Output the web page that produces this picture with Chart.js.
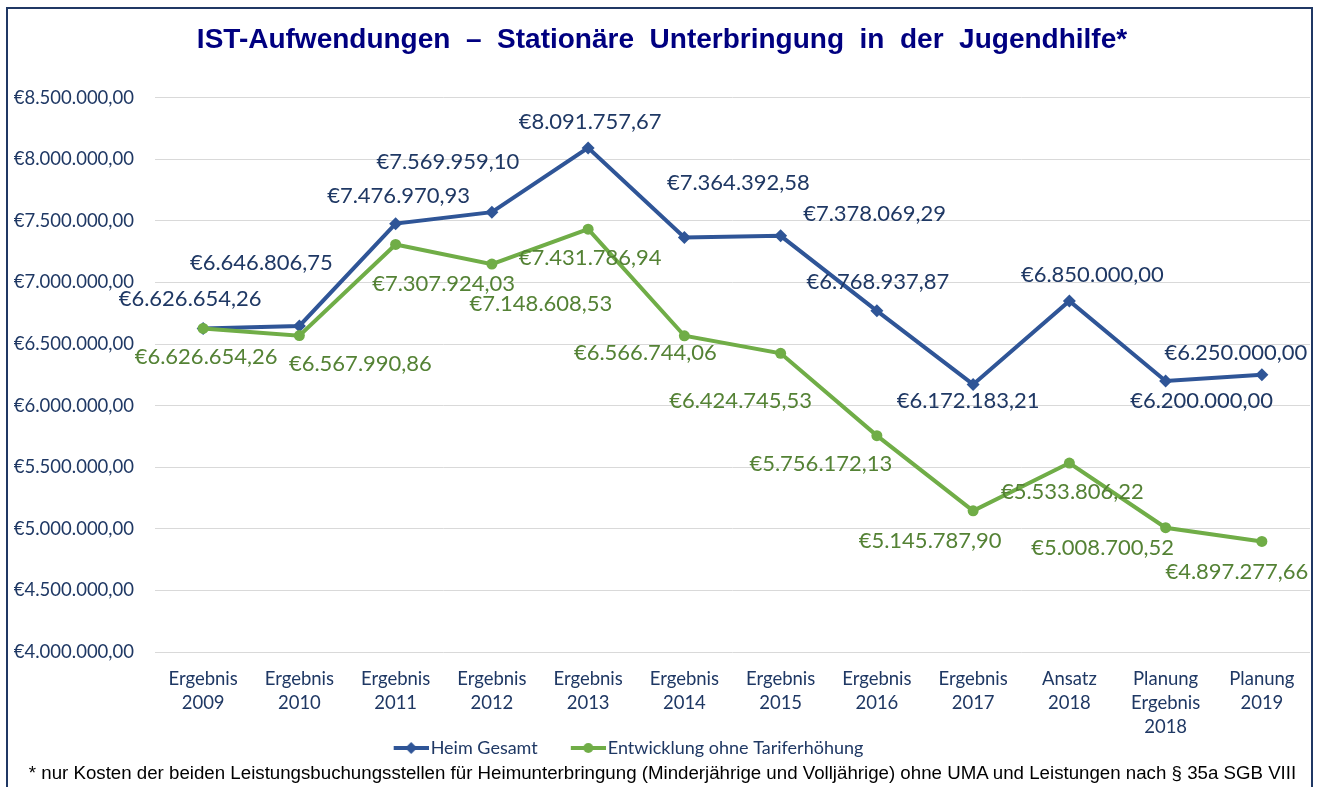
<!DOCTYPE html>
<html>
<head>
<meta charset="utf-8">
<title>IST-Aufwendungen</title>
<script src="https://cdn.jsdelivr.net/npm/chart.js@4.4.0/dist/chart.umd.min.js"></script>
<style>
  html, body { margin: 0; padding: 0; background: #fff; }
  #wrap { position: relative; width: 1325px; height: 787px; overflow: hidden; }
  #frame { position: absolute; left: 6px; top: 7px; width: 1303px; height: 800px; border: 2px solid #203864; pointer-events: none; }
  #note { position: absolute; left: 0; top: 762px; width: 1325px; text-align: center;
          font: 18.7px "Liberation Sans", Arial, sans-serif; color: #000; white-space: nowrap; }
</style>
</head>
<body>
<div id="wrap">
  <canvas id="chart" width="1325" height="787"></canvas>
  <div id="frame"></div>
  <div id="note">* nur Kosten der beiden Leistungsbuchungsstellen für Heimunterbringung (Minderjährige und Volljährige) ohne UMA und Leistungen nach § 35a SGB VIII</div>
</div>
<script>
'use strict';

var categories = [
  ['Ergebnis', '2009'], ['Ergebnis', '2010'], ['Ergebnis', '2011'], ['Ergebnis', '2012'],
  ['Ergebnis', '2013'], ['Ergebnis', '2014'], ['Ergebnis', '2015'], ['Ergebnis', '2016'],
  ['Ergebnis', '2017'], ['Ansatz', '2018'], ['Planung', 'Ergebnis', '2018'], ['Planung', '2019']
];
var heimGesamt = [6626654.26, 6646806.75, 7476970.93, 7569959.10, 8091757.67, 7364392.58,
  7378069.29, 6768937.87, 6172183.21, 6850000.00, 6200000.00, 6250000.00];
var ohneTarif = [6626654.26, 6567990.86, 7307924.03, 7148608.53, 7431786.94, 6566744.06,
  6424745.53, 5756172.13, 5145787.90, 5533806.22, 5008700.52, 4897277.66];
var yMin = 4000000, yMax = 8500000, yStep = 500000;

// where each value label sits relative to its point (px)
var blueShift = [[-13, -29], [-38, -63], [3, -28], [-44, -50], [2, -26], [54, -55],
  [94, -22], [1, -29], [-5, 17], [23, -26], [36, 20], [-26, -22]];
var greenShift = [[3, 29], [61, 28], [48, 39], [49, 40], [2, 29], [-39, 17],
  [-40, 48], [-56, 28], [-43, 30], [3, 29], [-63, 20], [-25, 30]];

var blue = '#2F5597', green = '#70AD47';
var navy = '#1F3864';

function euro(v) {
  var parts = v.toFixed(2).split('.');
  var intPart = parts[0].replace(/\B(?=(\d{3})+(?!\d))/g, '.');
  return '€' + intPart + ',' + parts[1];
}

// legend icon: short line with the marker, drawn wider than the legend box
function legendIcon(color, style) {
  var c = document.createElement('canvas');
  c.width = 65; c.height = 14;
  var g = c.getContext('2d');
  g.strokeStyle = color;
  g.fillStyle = color;
  g.lineWidth = 4;
  g.beginPath();
  g.moveTo(30, 7); g.lineTo(65, 7);
  g.stroke();
  g.beginPath();
  if (style === 'diamond') {
    g.moveTo(47.5, 1); g.lineTo(53.5, 7); g.lineTo(47.5, 13); g.lineTo(41.5, 7);
    g.closePath();
  } else {
    g.arc(47.5, 7, 5, 0, Math.PI * 2);
  }
  g.fill();
  return c;
}

var valueLabels = {
  id: 'valueLabels',
  afterDatasetsDraw: function(chart) {
    var ctx = chart.ctx;
    ctx.save();
    ctx.font = '22px Lato';
    ctx.textAlign = 'center';
    ctx.textBaseline = 'middle';
    chart.data.datasets.forEach(function(ds, d) {
      var meta = chart.getDatasetMeta(d);
      ctx.fillStyle = ds.labelColor;
      meta.data.forEach(function(pt, i) {
        var s = ds.labelShift[i];
        ctx.fillText(euro(ds.data[i]), pt.x + s[0], pt.y + s[1]);
      });
    });
    ctx.restore();
  }
};

// nudge the legend up/left after layout
var legendNudge = {
  id: 'legendNudge',
  afterLayout: function(chart) {
    var lg = chart.legend;
    if (!lg) return;
    lg.top -= 10; lg.bottom -= 10;
    lg.left -= 45; lg.right -= 45;
  }
};

var ctx = document.getElementById('chart').getContext('2d');
new Chart(ctx, {
  type: 'line',
  data: {
    labels: categories,
    datasets: [
      {
        label: 'Heim Gesamt',
        data: heimGesamt,
        borderColor: blue,
        backgroundColor: blue,
        borderWidth: 4,
        pointStyle: 'rectRot',
        pointRadius: 6.5,
        pointBorderWidth: 0,
        tension: 0,
        order: 1,
        labelColor: navy,
        labelShift: blueShift,
        legendIcon: legendIcon(blue, 'diamond')
      },
      {
        label: 'Entwicklung ohne Tariferhöhung',
        data: ohneTarif,
        borderColor: green,
        backgroundColor: green,
        borderWidth: 4,
        pointStyle: 'circle',
        pointRadius: 5.5,
        pointBorderWidth: 0,
        tension: 0,
        order: 0,
        labelColor: '#548235',
        labelShift: greenShift,
        legendIcon: legendIcon(green, 'circle')
      }
    ]
  },
  options: {
    responsive: false,
    animation: false,
    devicePixelRatio: 1,
    layout: { padding: { left: 14, right: 15, top: 0, bottom: 10 } },
    plugins: {
      title: {
        display: true,
        text: 'IST-Aufwendungen  –  Stationäre  Unterbringung  in  der  Jugendhilfe*',
        color: '#000080',
        font: { family: '"Liberation Sans", Arial, sans-serif', size: 28, weight: 'bold', lineHeight: 1.2 },
        padding: { top: 23, bottom: 41 }
      },
      legend: {
        position: 'bottom',
        labels: {
          usePointStyle: true,
          pointStyleWidth: 51,
          color: navy,
          padding: 10,
          font: { family: 'Lato', size: 18 },
          generateLabels: function(chart) {
            return chart.data.datasets.map(function(ds, i) {
              return {
                text: ds.label,
                fillStyle: ds.borderColor,
                strokeStyle: ds.borderColor,
                fontColor: navy,
                pointStyle: ds.legendIcon,
                lineWidth: 0,
                hidden: false,
                datasetIndex: i
              };
            });
          }
        }
      },
      tooltip: { enabled: false }
    },
    scales: {
      x: {
        offset: true,
        grid: { display: false, drawTicks: false },
        border: { display: false },
        ticks: {
          color: navy,
          padding: 15,
          maxRotation: 0,
          autoSkip: false,
          font: { family: 'Lato', size: 18.5, lineHeight: '24px' }
        },
        afterFit: function(scale) { scale.height = 87; }
      },
      y: {
        min: yMin,
        max: yMax,
        grid: { color: '#D9D9D9', lineWidth: 1, drawTicks: false },
        border: { display: false },
        ticks: {
          stepSize: yStep,
          color: navy,
          padding: 21,
          font: { family: 'Lato', size: 18.5 },
          callback: function(v) { return euro(v); }
        },
        afterFit: function(scale) { scale.width = 141; }
      }
    }
  },
  plugins: [valueLabels, legendNudge]
});
</script>
</body>
</html>
